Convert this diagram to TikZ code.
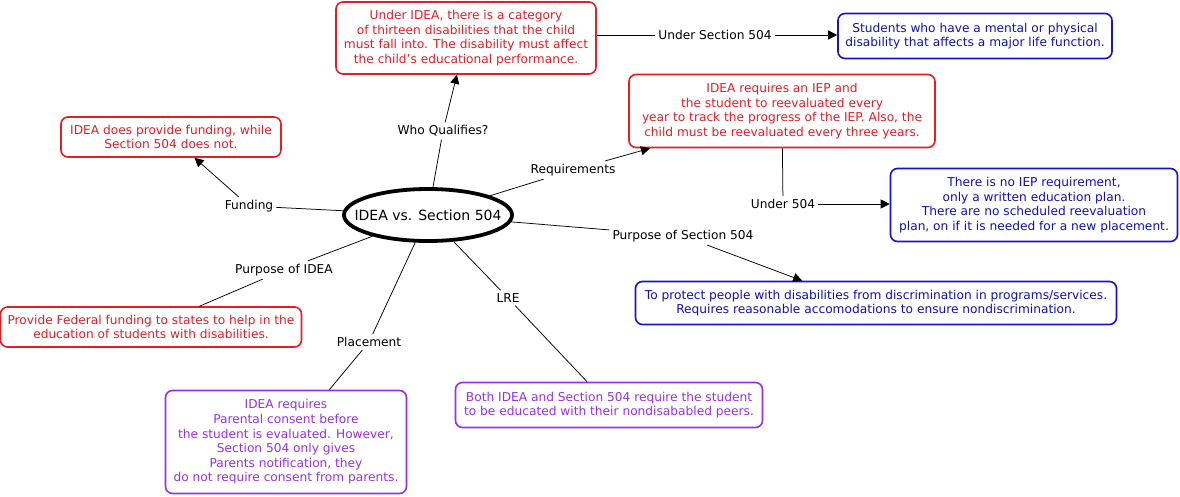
\documentclass[tikz,border=0pt]{standalone}
\usepackage{fontspec}
\setmainfont{DejaVu Sans}
\usetikzlibrary{shapes.geometric,arrows.meta,calc}
\definecolor{cred}{RGB}{226,30,38}
\definecolor{cblue}{RGB}{20,20,210}
\definecolor{cpurple}{RGB}{150,50,230}
\tikzset{
  box/.style={draw, rounded corners=7pt, line width=1.6pt, align=center,
    font=\fontsize{12.2}{14.6}\selectfont, inner sep=0pt},
  redbox/.style={box, draw=cred, text=cred},
  bluebox/.style={box, draw=cblue, text=cblue!85!black},
  purplebox/.style={box, draw=cpurple, text=cpurple},
  lbl/.style={font=\fontsize{12.2}{14}\selectfont, inner sep=3pt, text=black},
  conn/.style={draw=black, line width=0.75pt},
  arr/.style={conn, -{Triangle[length=9pt,width=9pt]}},
}
\begin{document}
\begin{tikzpicture}[x=1pt,y=-1pt]
\useasboundingbox[fill=white] (0,0) rectangle (1180,496);

\node[ellipse, draw=black, line width=3.8pt, minimum width=168pt, minimum height=52pt,
      font=\fontsize{14}{17}\selectfont, inner xsep=-20pt, inner ysep=0pt] (c) at (428,215) {IDEA vs. Section 504};

\node[redbox, minimum width=260pt, minimum height=72pt] (n2) at (466,38)
  {Under IDEA, there is a category\\ of thirteen disabilities that the child\\ must fall into. The disability must affect\\ the child's educational performance.};
\node[bluebox, minimum width=274pt, minimum height=45pt] (n3) at (975,36)
  {Students who have a mental or physical\\ disability that affects a major life function.};
\node[redbox, minimum width=306pt, minimum height=73pt] (n4) at (782,111)
  {IDEA requires an IEP and\\ the student to reevaluated every\\ year to track the progress of the IEP. Also, the\\ child must be reevaluated every three years.};
\node[bluebox, minimum width=287pt, minimum height=73pt] (n5) at (1034,205)
  {There is no IEP requirement,\\ only a written education plan.\\ There are no scheduled reevaluation\\ plan, on if it is needed for a new placement.};
\node[bluebox, minimum width=481pt, minimum height=43pt] (n6) at (876,303)
  {To protect people with disabilities from discrimination in programs/services.\\ Requires reasonable accomodations to ensure nondiscrimination.};
\node[purplebox, minimum width=307pt, minimum height=45pt] (n7) at (609,405)
  {Both IDEA and Section 504 require the student\\ to be educated with their nondisababled peers.};
\node[purplebox, minimum width=241pt, minimum height=103pt] (n8) at (286,442)
  {IDEA requires\\ Parental consent before\\ the student is evaluated. However,\\ Section 504 only gives\\ Parents notification, they\\ do not require consent from parents.};
\node[redbox, minimum width=301pt, minimum height=40pt] (n9) at (151,327)
  {Provide Federal funding to states to help in the\\ education of students with disabilities.};
\node[redbox, minimum width=220pt, minimum height=40pt] (n10) at (171,137)
  {IDEA does provide funding, while\\ Section 504 does not.};

\node[lbl] (wq) at (443,131) {Who Qualifies?};
\node[lbl] (us504) at (715,35) {Under Section 504};
\node[lbl] (req) at (573,170) {Requirements};
\node[lbl] (u504) at (783,204) {Under 504};
\node[lbl] (p504) at (683,236) {Purpose of Section 504};
\node[lbl] (fund) at (249,206) {Funding};
\node[lbl] (pidea) at (284,270) {Purpose of IDEA};
\node[lbl] (place) at (369,342) {Placement};
\node[lbl] (lre) at (508,298) {LRE};

\draw[conn] (c) -- (wq);
\draw[arr] (wq) -- (n2);
\draw[conn] (n2.east |- us504) -- (us504);
\draw[arr] (us504) -- (us504 -| n3.west);
\draw[conn] (c) -- (req);
\draw[arr] (req) -- (n4);
\draw[conn] (n4) -- (u504);
\draw[arr] (u504) -- (u504 -| n5.west);
\draw[conn] (c) -- (p504);
\draw[arr] (p504) -- ($(n6.north west)!0.347!(n6.north east)$);
\draw[conn] (c) -- (fund);
\draw[arr] (fund) -- (n10);
\draw[conn] (c) -- (pidea);
\draw[conn] (pidea) -- (n9);
\draw[conn] (c) -- (place);
\draw[conn] (place) -- (n8);
\draw[conn] (c) -- (lre);
\draw[conn] (lre) -- (n7);
\end{tikzpicture}
\end{document}
